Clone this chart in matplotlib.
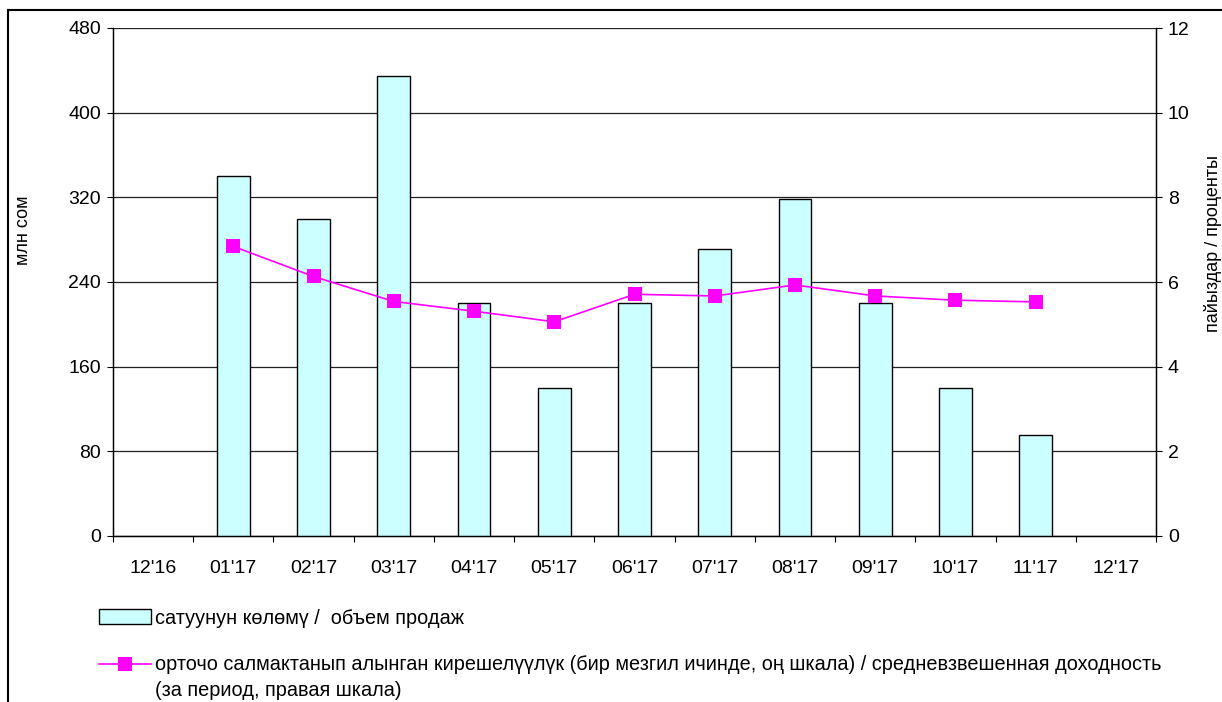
import numpy as np
import matplotlib.pyplot as plt
from matplotlib.lines import Line2D
from matplotlib.patches import Rectangle

plt.rcParams['font.family'] = ['Liberation Sans', 'DejaVu Sans']

months = ["12'16", "01'17", "02'17", "03'17", "04'17", "05'17", "06'17",
          "07'17", "08'17", "09'17", "10'17", "11'17", "12'17"]
sales = [np.nan, 340, 300, 435, 220, 140, 220, 271, 318, 220, 140, 95, np.nan]
yield_pct = [np.nan, 6.84, 6.13, 5.54, 5.31, 5.06, 5.71, 5.67, 5.93, 5.67,
             5.57, 5.53, np.nan]

bar_label = "сатуунун көлөмү /  объем продаж"
line_label = ("орточо салмактанып алынган кирешелүүлүк (бир мезгил ичинде, оң шкала) / "
              "средневзвешенная доходность\n(за период, правая шкала)")

W, H = 1222, 702
fs = 14
fig = plt.figure(figsize=(W / 100, H / 100), dpi=100)

def fx(px):
    return px / W

def fy(py):
    return 1 - py / H

# outer frame (only top and left edges visible)
fig.add_artist(Line2D([fx(8), 1.0], [fy(10), fy(10)], color='black', lw=1.5))
fig.add_artist(Line2D([fx(8), fx(8)], [fy(10), 0], color='black', lw=1.5))

ax = fig.add_axes([fx(113), fy(536), fx(1156 - 113), (536 - 28) / H])
x = np.arange(len(months))
s = np.array(sales, dtype=float)
m = ~np.isnan(s)
ax.bar(x[m], s[m], width=0.41, color='#CCFFFF', edgecolor='black', lw=1, zorder=3)
ax.set_xlim(-0.5, len(months) - 0.5)
ax.set_ylim(0, 480)
ax.set_yticks(range(0, 481, 80))
ax.yaxis.grid(True, color='#202020', lw=0.9)
ax.set_axisbelow(True)
ax.set_xticks(x)
ax.set_xticklabels(months)
ax.set_xticks(np.arange(-0.5, len(months), 1), minor=True)
ax.tick_params(axis='x', which='major', length=0, pad=17, labelsize=fs)
ax.tick_params(axis='x', which='minor', length=4.5, width=0.8)
ax.tick_params(axis='y', length=4.5, width=0.8, labelsize=fs, pad=4)
ax.spines['top'].set_visible(False)
for sp in ax.spines.values():
    sp.set_linewidth(1)

ax2 = ax.twinx()
ax2.plot(x, yield_pct, color='#FF00FF', lw=1.2, marker='s', markersize=10,
         markeredgewidth=0, zorder=4)
ax2.set_ylim(0, 12)
ax2.set_yticks(range(0, 13, 2))
ax2.tick_params(axis='y', length=4.5, width=0.8, labelsize=fs, pad=4)
ax2.spines['top'].set_visible(False)

fig.text(fx(24), fy(230), "млн сом", rotation=90, ha='center', va='center', fontsize=13)
fig.text(fx(1213), fy(243), "пайыздар / проценты", rotation=90, ha='center',
         va='center', fontsize=13)

# legend drawn below the plot
fig.add_artist(Rectangle((fx(99), fy(624)), fx(52), 15 / H, facecolor='#CCFFFF',
                         edgecolor='black', lw=1))
fig.text(fx(155), fy(618), bar_label, ha='left', va='center', fontsize=14.3)
fig.add_artist(Line2D([fx(99), fx(151)], [fy(664), fy(664)], color='#FF00FF', lw=1.2))
fig.add_artist(Line2D([fx(125)], [fy(664)], color='#FF00FF', marker='s',
                      markersize=10, markeredgewidth=0))
fig.text(fx(155), fy(655), line_label, ha='left', va='top', fontsize=14.3,
         linespacing=1.45)

fig.savefig("out.png", dpi=100)
